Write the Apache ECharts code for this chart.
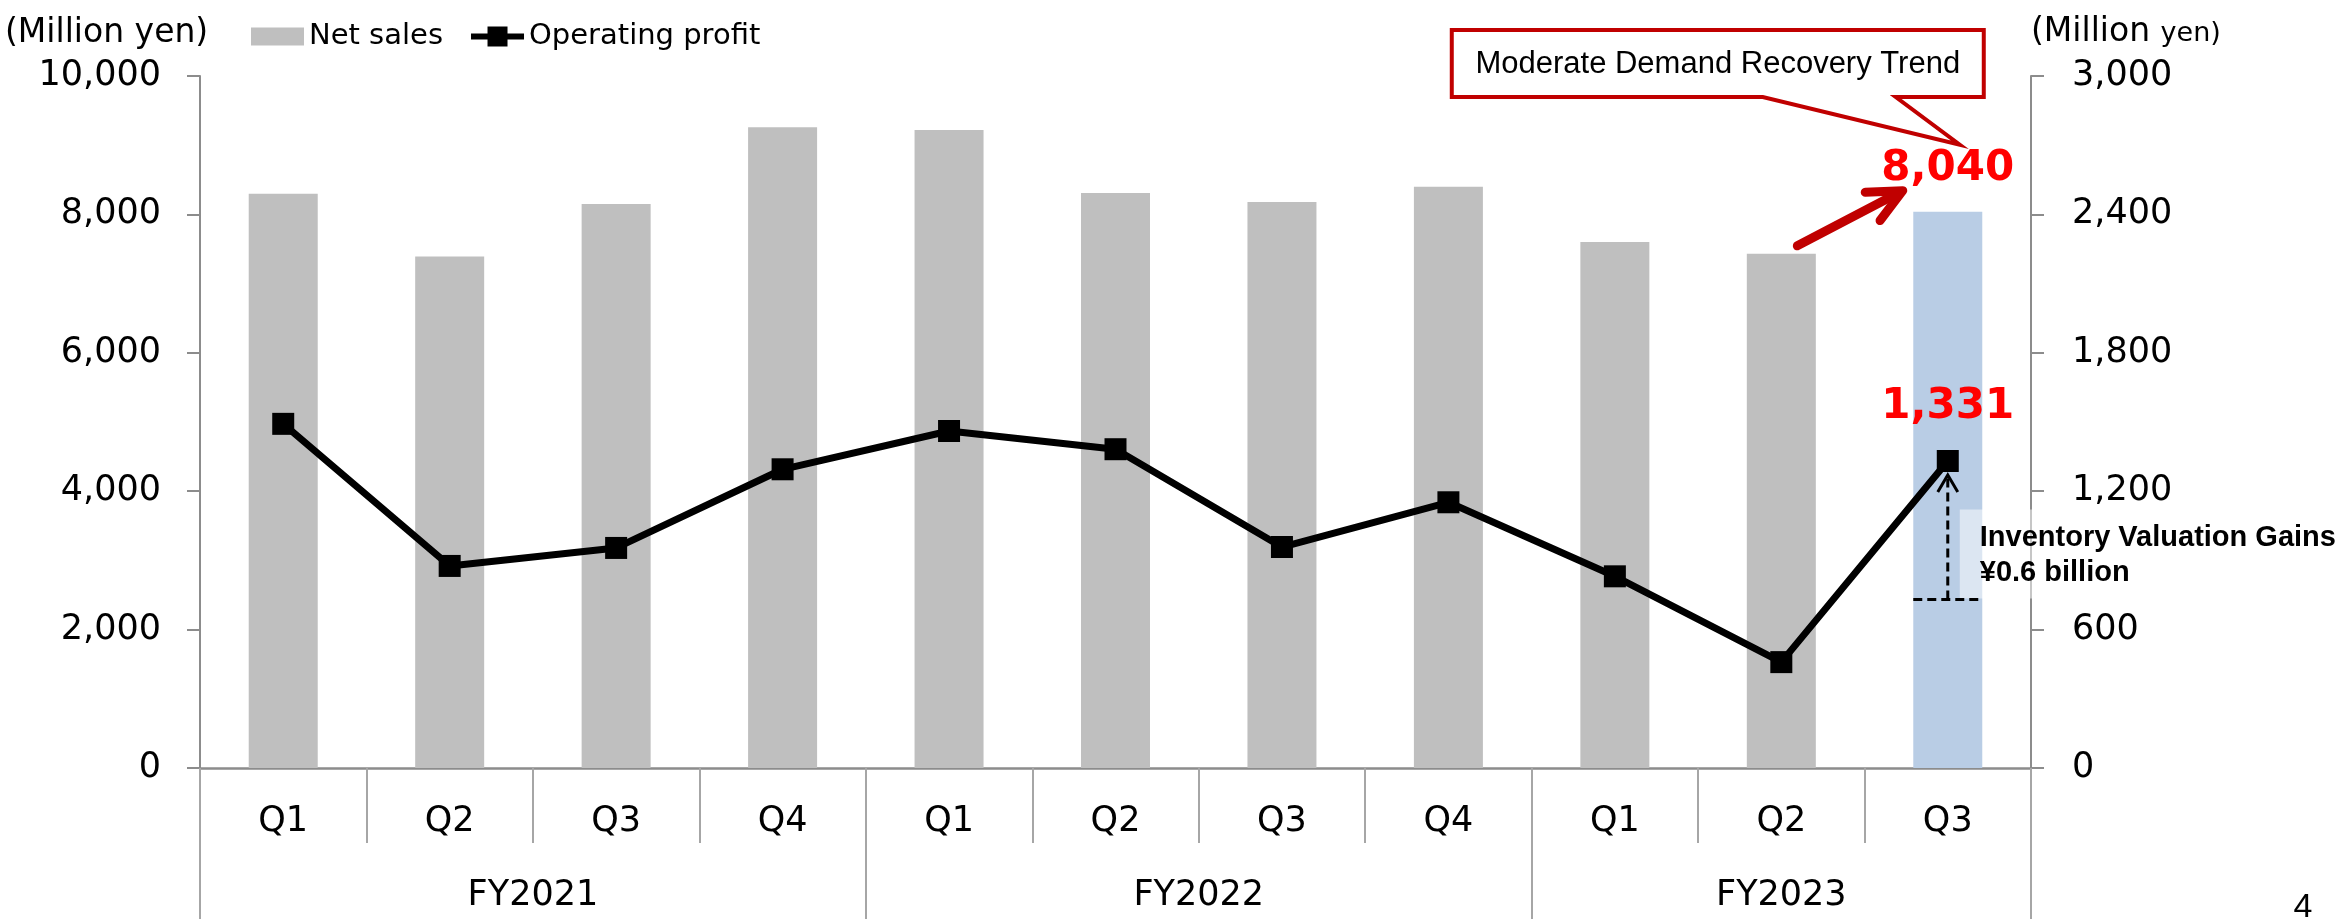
<!DOCTYPE html>
<html>
<head>
<meta charset="utf-8">
<title>Net sales and operating profit</title>
<script src="https://cdn.jsdelivr.net/npm/echarts@6.0.0/dist/echarts.min.js"></script>
<style>
  html, body { margin: 0; padding: 0; background: #fff; }
  #chart { width: 2343px; height: 922px; }
</style>
</head>
<body>
<div id="chart"></div>
<script>
// data
const quarters = ['Q1', 'Q2', 'Q3', 'Q4', 'Q1', 'Q2', 'Q3', 'Q4', 'Q1', 'Q2', 'Q3']
const fiscalYears = ['FY2021', 'FY2022', 'FY2023']
const quartersPerYear = [4, 4, 3]
const netSales = [8300, 7390, 8150, 9260, 9220, 8310, 8180, 8400, 7600, 7430, 8040]
const operatingProfit = [1492, 876, 954, 1295, 1461, 1382, 958, 1152, 831, 459, 1331]
const salesAxis = { min: 0, max: 10000, interval: 2000 }
const profitAxis = { min: 0, max: 3000, interval: 600 }
const inventoryGain = 600

const last = quarters.length - 1
const fontMain = 'DejaVu Sans'
const fontArial = 'Liberation Sans'
const fmt = (v) => Number(v).toLocaleString('en-US')

// second category row (fiscal years): half-quarter points, labels centred on each year
const fyLabels = new Array(quarters.length * 2 + 1).fill('')
const fyBounds = [0]
let start = 0
fiscalYears.forEach((fy, i) => {
  fyLabels[start * 2 + quartersPerYear[i]] = fy
  start += quartersPerYear[i]
  fyBounds.push(start * 2)
})

const chart = echarts.init(document.getElementById('chart'))

chart.setOption({
  animation: false,
  backgroundColor: '#fff',
  textStyle: { fontFamily: fontMain, color: '#000' },
  legend: {
    left: 246,
    top: 17,
    itemWidth: 53,
    itemHeight: 25,
    itemGap: 25,
    selectedMode: false,
    textStyle: { fontSize: 29, color: '#000', fontFamily: fontMain },
    data: [
      { name: 'Net sales', icon: 'path://M0,0L0,0M0,3.5L53,3.5L53,21.5L0,21.5ZM0,25L0,25' },
      { name: 'Operating profit', lineStyle: { width: 6, color: '#000' } },
    ],
  },
  grid: {
    left: 200,
    right: 312,
    top: 76,
    bottom: 154,
    containLabel: false,
    outerBoundsMode: 'none',
  },
  xAxis: [{
    type: 'category',
    data: quarters,
    position: 'bottom',
    axisLine: { show: true, lineStyle: { color: '#8c8c8c', width: 2.5 } },
    axisTick: { show: true, interval: 0, length: 75, lineStyle: { color: '#a6a6a6', width: 2 } },
    axisLabel: { interval: 0, fontSize: 35, lineHeight: 35, margin: 36, color: '#000', fontFamily: fontMain },
    splitLine: { show: false },
  }, {
    type: 'category',
    data: fyLabels.map((_, i) => String(i)),
    position: 'bottom',
    offset: 0,
    boundaryGap: false,
    axisLine: { show: false },
    axisTick: {
      show: true,
      length: 151,
      interval: (idx) => fyBounds.includes(idx),
      lineStyle: { color: '#a6a6a6', width: 2 },
    },
    axisLabel: {
      interval: (idx) => fyLabels[idx] !== '',
      formatter: (v) => fyLabels[+v],
      fontSize: 35,
      lineHeight: 35,
      margin: 110,
      color: '#000',
      fontFamily: fontMain,
    },
    splitLine: { show: false },
  }],
  yAxis: [{
    type: 'value',
    position: 'left',
    min: salesAxis.min,
    max: salesAxis.max,
    interval: salesAxis.interval,
    axisLine: { show: true, lineStyle: { color: '#8c8c8c', width: 2 } },
    axisTick: { show: true, length: 13, lineStyle: { color: '#8c8c8c', width: 2 } },
    axisLabel: { formatter: fmt, fontSize: 35, margin: 39, color: '#000', fontFamily: fontMain },
    splitLine: { show: false },
  }, {
    type: 'value',
    position: 'right',
    min: profitAxis.min,
    max: profitAxis.max,
    interval: profitAxis.interval,
    axisLine: { show: true, lineStyle: { color: '#8c8c8c', width: 2 } },
    axisTick: { show: true, length: 13, lineStyle: { color: '#8c8c8c', width: 2 } },
    axisLabel: { formatter: fmt, fontSize: 35, margin: 41, color: '#000', fontFamily: fontMain },
    splitLine: { show: false },
  }],
  series: [
    {
      name: 'Net sales',
      type: 'bar',
      xAxisIndex: 0,
      yAxisIndex: 0,
      barWidth: 69,
      itemStyle: { color: '#BFBFBF' },
      data: netSales.map((v, i) => i === last ? {
        value: v,
        itemStyle: { color: '#B9CDE5' },
        label: {
          show: true,
          position: 'top',
          distance: 22,
          formatter: (p) => fmt(p.value),
          color: '#FF0000',
          fontSize: 42,
          lineHeight: 42,
          fontWeight: 'bold',
          fontFamily: fontMain,
        },
      } : v),
    },
    {
      name: 'Operating profit',
      type: 'line',
      xAxisIndex: 0,
      yAxisIndex: 1,
      symbol: 'rect',
      symbolSize: 22,
      z: 5,
      lineStyle: { color: '#000', width: 7 },
      itemStyle: { color: '#000' },
      data: operatingProfit.map((v, i) => i === last ? {
        value: v,
        label: {
          show: true,
          position: 'top',
          distance: 22,
          formatter: (p) => fmt(p.value),
          color: '#FF0000',
          fontSize: 42,
          lineHeight: 42,
          fontWeight: 'bold',
          fontFamily: fontMain,
        },
      } : v),
    },
  ],
})

// annotations, placed from the chart's own scales
const barTop = chart.convertToPixel({ seriesIndex: 0 }, [last, netSales[last]])
const prevTop = chart.convertToPixel({ seriesIndex: 0 }, [last - 1, netSales[last - 1]])
const opPt = chart.convertToPixel({ seriesIndex: 1 }, [last, operatingProfit[last]])
const basePt = chart.convertToPixel({ seriesIndex: 1 }, [last, operatingProfit[last] - inventoryGain])
const halfBar = 34.5

// callout box
const boxL = barTop[0] - 496, boxR = barTop[0] + 36, boxT = 30, boxB = 97
const calloutTip = [barTop[0] + 12, barTop[1] - 67]

// red trend arrow
const arrTail = [prevTop[0] + 16, prevTop[1] - 8]
const arrTip = [barTop[0] - 45, barTop[1] - 21]
const dx = arrTip[0] - arrTail[0], dy = arrTip[1] - arrTail[1]
const len = Math.sqrt(dx * dx + dy * dy)
const ux = dx / len, uy = dy / len
const nx = -uy, ny = ux
const barb1 = [arrTip[0] - 34 * ux + 16 * nx, arrTip[1] - 34 * uy + 16 * ny]
const barb2 = [arrTip[0] - 34 * ux - 16 * nx, arrTip[1] - 34 * uy - 16 * ny]

// dashed inventory arrow
const ax = opPt[0]
const aTop = opPt[1] + 14
const aBot = basePt[1]

chart.setOption({
  graphic: [
    {
      type: 'text', left: 5, top: 17, z: 20,
      style: { text: '(Million yen)', fontSize: 33, fontFamily: fontMain, fill: '#000' },
    },
    {
      type: 'text', x: 2031, y: 32, z: 20,
      style: {
        text: '{a|(Million }{b|yen)}',
        verticalAlign: 'middle',
        rich: {
          a: { fontSize: 33, fontFamily: fontMain, fill: '#000', lineHeight: 36 },
          b: { fontSize: 27, fontFamily: fontMain, fill: '#000', lineHeight: 36, padding: [4, 0, 0, 0] },
        },
      },
    },
    {
      type: 'polygon', z: 20,
      shape: {
        points: [[boxL, boxT], [boxR, boxT], [boxR, boxB], [barTop[0] - 52, boxB], calloutTip,
          [barTop[0] - 185, boxB], [boxL, boxB]],
      },
      style: { fill: '#fff', stroke: '#C00000', lineWidth: 4, lineJoin: 'miter' },
    },
    {
      type: 'text', x: (boxL + boxR) / 2, y: (boxT + boxB) / 2 + 1, z: 21,
      style: {
        text: 'Moderate Demand Recovery Trend',
        fontSize: 31, fontFamily: fontArial, fill: '#000',
        align: 'center', verticalAlign: 'middle',
      },
    },
    {
      type: 'line', z: 20,
      shape: { x1: arrTail[0], y1: arrTail[1], x2: arrTip[0] - 4 * ux, y2: arrTip[1] - 4 * uy },
      style: { stroke: '#C00000', lineWidth: 9, lineCap: 'round' },
    },
    {
      type: 'polyline', z: 20,
      shape: { points: [barb1, arrTip, barb2] },
      style: { stroke: '#C00000', lineWidth: 9, lineCap: 'round', lineJoin: 'round', fill: null },
    },
    {
      type: 'rect', z: 18,
      shape: { x: ax + 12, y: aBot - 90, width: 2343 - (ax + 12), height: 89 },
      style: { fill: 'rgba(255,255,255,0.5)' },
    },
    {
      type: 'line', z: 20,
      shape: { x1: ax, y1: aBot, x2: ax, y2: aTop + 2 },
      style: { stroke: '#000', lineWidth: 3, lineDash: [9, 5] },
    },
    {
      type: 'polyline', z: 20,
      shape: { points: [[ax - 10, aTop + 17], [ax, aTop], [ax + 10, aTop + 17]] },
      style: { stroke: '#000', lineWidth: 3, fill: null },
    },
    {
      type: 'line', z: 20,
      shape: { x1: ax - halfBar, y1: aBot, x2: ax + halfBar, y2: aBot },
      style: { stroke: '#000', lineWidth: 3, lineDash: [9, 5] },
    },
    {
      type: 'text', x: ax + 32, y: aBot - 61, z: 21,
      style: {
        text: 'Inventory Valuation Gains',
        fontSize: 29, fontWeight: 'bold', fontFamily: fontArial, fill: '#000',
        align: 'left', verticalAlign: 'middle',
      },
    },
    {
      type: 'text', x: ax + 32, y: aBot - 26, z: 21,
      style: {
        text: '¥0.6 billion',
        fontSize: 29, fontWeight: 'bold', fontFamily: fontArial, fill: '#000',
        align: 'left', verticalAlign: 'middle',
      },
    },
    {
      type: 'text', x: 2303, y: 908, z: 20,
      style: {
        text: '4', fontSize: 34, fontFamily: fontArial, fill: '#000',
        align: 'center', verticalAlign: 'middle',
      },
    },
  ],
})
</script>
</body>
</html>
